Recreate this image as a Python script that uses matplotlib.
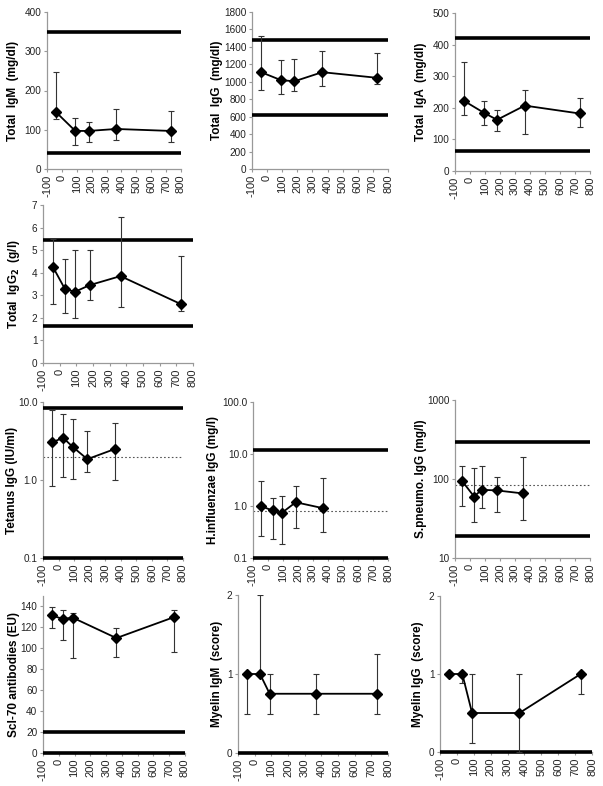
import matplotlib
matplotlib.use('Agg')
import matplotlib.pyplot as plt
import numpy as np

plt.rcParams['font.family'] = ['Liberation Sans', 'DejaVu Sans']
plt.rcParams['font.size'] = 7

# days
days5 = [-40, 90, 180, 365, 730]
days6 = [-40, 30, 90, 180, 365, 730]
days_vacc = [-45, 30, 90, 185, 365]
days_pn = [-55, 27, 78, 178, 355]
days_scl = [-45, 25, 90, 365, 730]
days_my = [-45, 32, 90, 370, 733]

# total immunoglobulins
igm = [145, 97, 97, 102, 97]
igm_lo = [128, 60, 70, 73, 70]
igm_hi = [247, 131, 121, 153, 148]
igm_ref = [40, 348]

igg = [1110, 1020, 1005, 1110, 1045]
igg_lo = [905, 855, 895, 950, 980]
igg_hi = [1530, 1255, 1265, 1350, 1330]
igg_ref = [615, 1480]

iga = [222, 185, 162, 207, 182]
iga_lo = [178, 147, 128, 117, 138]
iga_hi = [345, 222, 193, 257, 231]
iga_ref = [63, 420]

igg2 = [4.25, 3.3, 3.15, 3.45, 3.85, 2.6]
igg2_lo = [2.6, 2.2, 2.0, 2.8, 2.5, 2.3]
igg2_hi = [5.5, 4.6, 5.0, 5.0, 6.45, 4.75]
igg2_ref = [1.65, 5.45]

# vaccine antibodies
tet = [3.03, 3.47, 2.67, 1.85, 2.51]
tet_lo = [0.85, 1.08, 1.03, 1.25, 1.0]
tet_hi = [7.8, 6.97, 6.0, 4.27, 5.45]
tet_ref = [0.1, 8.3]
tet_prot = 1.95

hib = [0.99, 0.82, 0.73, 1.18, 0.91]
hib_lo = [0.27, 0.235, 0.19, 0.375, 0.32]
hib_hi = [3.07, 1.41, 1.59, 2.43, 3.4]
hib_ref = [0.1, 11.9]
hib_prot = 0.8

pn = [95.7, 60, 73, 71.7, 65.6]
pn_lo = [46, 28.5, 42.8, 38, 29.9]
pn_hi = [144, 137, 144, 107, 189]
pn_ref = [18.8, 292]
pn_prot = 83.6

# autoantibodies
scl = [131.4, 128.2, 129.2, 109.8, 129.8]
scl_lo = [119.3, 108.2, 91, 91.6, 96.4]
scl_hi = [139.4, 136.2, 133.6, 119.6, 137.1]
scl_ref = [0, 20]

myem = [1, 1, 0.75, 0.75, 0.75]
myem_lo = [0.5, 1, 0.5, 0.5, 0.5]
myem_hi = [1, 2, 1, 1, 1.25]

myeg = [1, 1, 0.5, 0.5, 1]
myeg_lo = [1, 0.88, 0.12, 0, 0.75]
myeg_hi = [1, 1, 1, 1, 1]
my_ref = [0]

W, H = 603, 786
fig = plt.figure(figsize=(W / 100, H / 100), dpi=100)


def panel(px, label, x, y, lo, hi, ylim, yticks, refs, prot=None, log=False,
          ticklabels=None, labelx=-0.2):
    x0, x1, y0, y1 = px
    ax = fig.add_axes([x0 / W, 1 - y1 / H, (x1 - x0) / W, (y1 - y0) / H])
    y = np.array(y)
    err = [y - np.array(lo), np.array(hi) - y]
    for r in refs:
        ax.plot([-100, 800], [r, r], color='black', lw=2.6, solid_capstyle='butt',
                zorder=2.7, clip_on=False)
    if prot is not None:
        ax.plot([-100, 800], [prot, prot], color='#555555', lw=0.8, ls=(0, (1.5, 2)),
                zorder=1)
    ax.errorbar(x, y, yerr=err, fmt='none', ecolor='#333333', elinewidth=0.8,
                capsize=2.5, capthick=0.8, zorder=3)
    ax.plot(x, y, color='black', lw=1.3, marker='D', ms=5.5, zorder=4)
    if log:
        ax.set_yscale('log')
        ax.minorticks_off()
    ax.set_xlim(-100, 800)
    ax.set_ylim(*ylim)
    ax.set_xticks(range(-100, 801, 100))
    ax.set_xticklabels([str(v) for v in range(-100, 801, 100)], rotation=90,
                       fontsize=8)
    ax.set_yticks(yticks)
    if ticklabels is not None:
        ax.set_yticklabels(ticklabels)
    for s in ['top', 'right']:
        ax.spines[s].set_visible(False)
    for s in ['left', 'bottom']:
        ax.spines[s].set_color('#999999')
        ax.spines[s].set_linewidth(0.9)
    ax.tick_params(length=2.5, width=0.8, color='#999999', pad=1.5,
                   labelcolor='#222222')
    ax.tick_params(axis='y', labelsize=7.2)
    ax.patch.set_alpha(0)
    ax.set_ylabel(label, fontsize=8.5, fontweight='bold')
    ax.yaxis.set_label_coords(labelx, 0.5)
    return ax


panel((47, 181, 12, 169), 'Total  IgM  (mg/dl)', days5, igm, igm_lo, igm_hi,
      (0, 400), range(0, 401, 100), igm_ref, labelx=-0.21)
panel((252, 388, 12, 169), 'Total  IgG  (mg/dl)', days5, igg, igg_lo, igg_hi,
      (0, 1800), range(0, 1801, 200), igg_ref, labelx=-0.21)
panel((455, 590, 13, 171), 'Total  IgA  (mg/dl)', days5, iga, iga_lo, iga_hi,
      (0, 500), range(0, 501, 100), iga_ref, labelx=-0.21)
panel((43, 193, 205, 363), r'Total  IgG$_\mathbf{2}$  (g/l)', days6, igg2, igg2_lo,
      igg2_hi, (0, 7), range(0, 8), igg2_ref, labelx=-0.14)

panel((43, 183, 402, 558), 'Tetanus IgG (IU/ml)', days_vacc, tet, tet_lo, tet_hi,
      (0.1, 10), [0.1, 1, 10], tet_ref, prot=tet_prot, log=True,
      ticklabels=['0.1', '1.0', '10.0'], labelx=-0.175)
panel((253, 388, 402, 558), 'H.influenzae IgG (mg/l)', days_vacc, hib, hib_lo, hib_hi,
      (0.1, 100), [0.1, 1, 10, 100], hib_ref, prot=hib_prot, log=True,
      ticklabels=['0.1', '1.0', '10.0', '100.0'], labelx=-0.25)
panel((455, 590, 400, 558), 'S.pneumo. IgG (mg/l)', days_pn, pn, pn_lo, pn_hi,
      (10, 1000), [10, 100, 1000], pn_ref, prot=pn_prot, log=True,
      ticklabels=['10', '100', '1000'], labelx=-0.21)

panel((43, 185, 596, 753), 'Scl-70 antibodies (EU)', days_scl, scl, scl_lo, scl_hi,
      (0, 150), range(0, 141, 20), scl_ref, labelx=-0.16)
panel((238, 388, 595, 753), 'Myelin IgM  (score)', days_my, myem, myem_lo, myem_hi,
      (0, 2), [0, 1, 2], my_ref, labelx=-0.10)
panel((440, 592, 596, 752), 'Myelin IgG  (score)', days_my, myeg, myeg_lo, myeg_hi,
      (0, 2), [0, 1, 2], my_ref, labelx=-0.105)

fig.savefig('out.png', dpi=100)
